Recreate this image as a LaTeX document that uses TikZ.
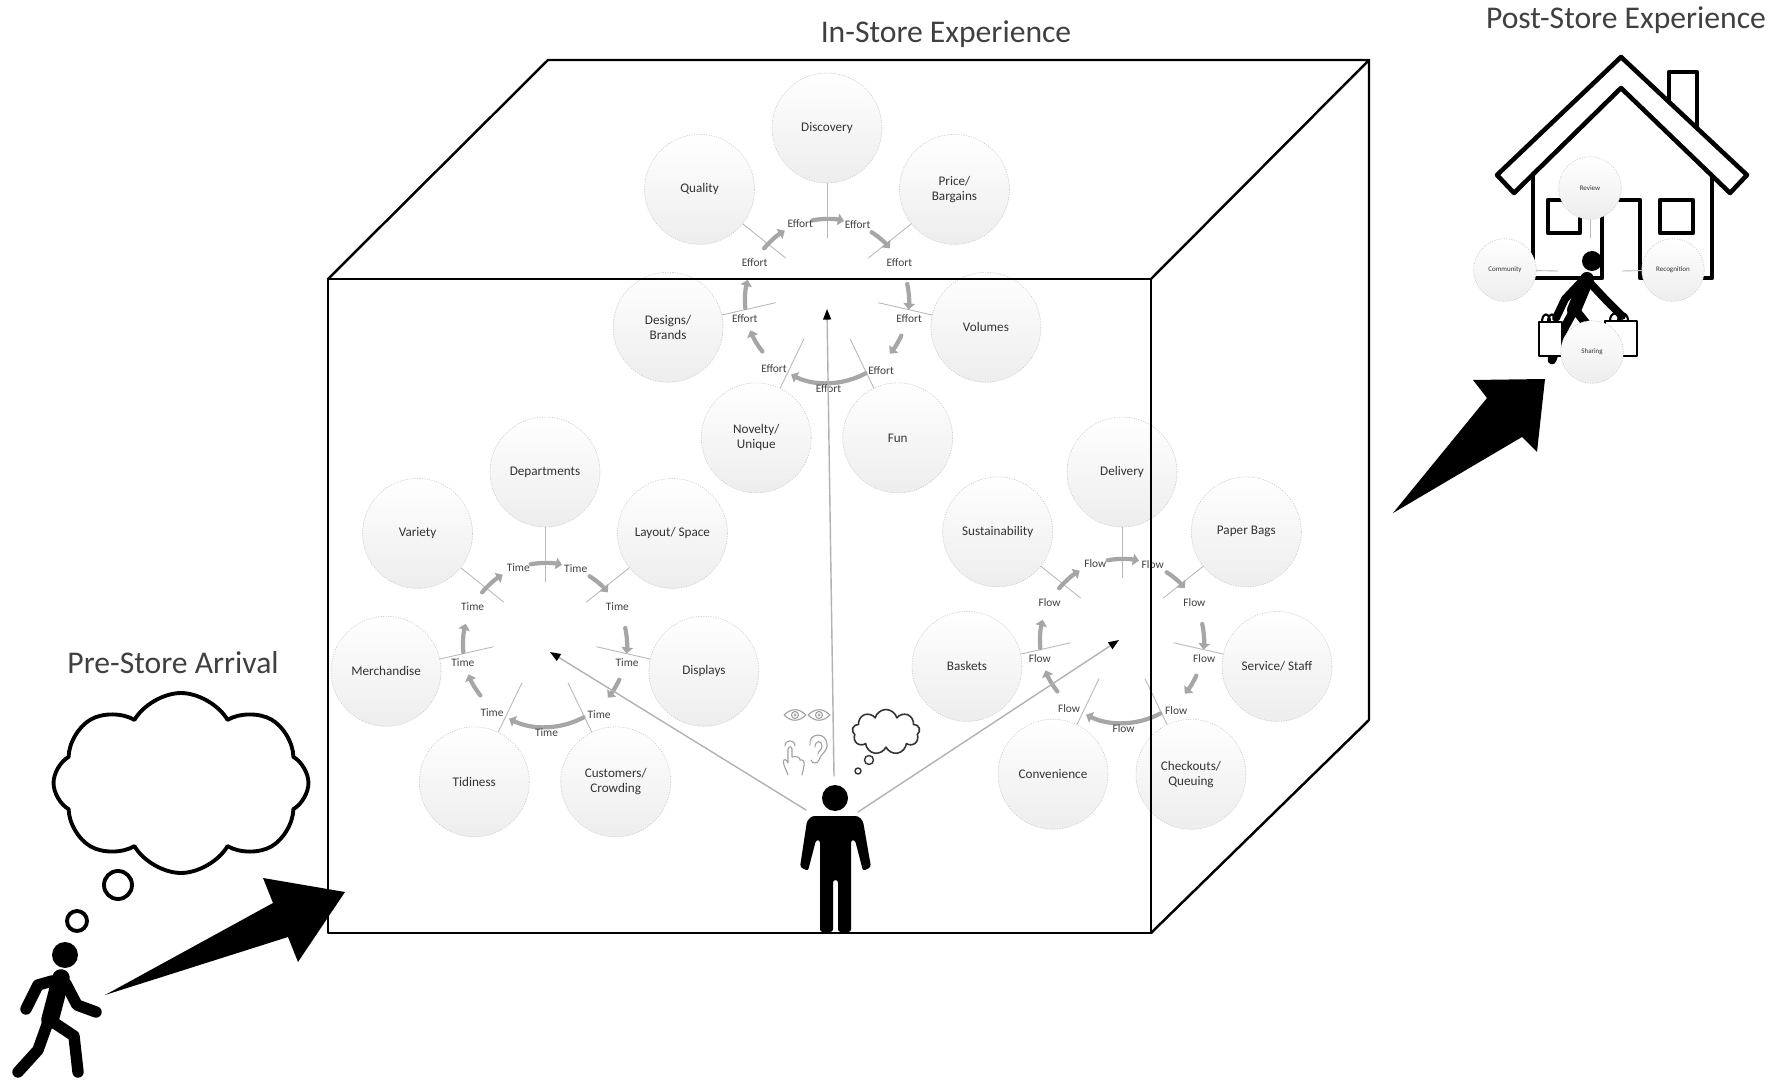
\documentclass[tikz,border=0pt]{standalone}
\usepackage{fontspec}
\setmainfont{Carlito}
\usetikzlibrary{arrows.meta,shapes.symbols}

\begin{document}
\begin{tikzpicture}[
	x=0.02cm,
	y=-0.02cm,
	line cap=round,
	line join=round,
	every node/.style={align=center},
	heading/.style={font=\fontsize{18}{20}\selectfont, text=black!75},
	bubble/.style={
		shape=circle,
		minimum size=2.2cm,
		inner sep=0pt,
		draw=gray!40,
		densely dotted,
		top color=white,
		bottom color=gray!14,
		text=black!80,
		font=\fontsize{7.5}{8.5}\selectfont
	},
	smallbubble/.style={bubble, minimum size=1.25cm, font=\fontsize{4}{5}\selectfont},
	spoke/.style={draw=gray!55, line width=0.5pt},
	cyclearrow/.style={draw=gray!70, line width=2.4pt, -{Triangle[length=3.5pt,width=6.5pt]}},
	steplabel/.style={font=\fontsize{6.5}{7}\selectfont, text=black!75, inner sep=0pt},
	sight/.style={draw=gray!60, line width=0.8pt, -{Triangle[color=black,length=6pt,width=4.5pt]}},
	edge/.style={line width=1.4pt},
	icon/.style={draw=gray!75, line width=0.6pt}
	]
	\path [use as bounding box, fill=white] (0,0) rectangle (1783,1084);

	\node [heading] (instore) at (946,34) {In-Store Experience};
	\node [heading] (poststore) at (1626,20) {Post-Store Experience};
	\node [heading] (prestore) at (173,663) {Pre-Store Arrival};

	% effort cycle
	\begin{scope}[shift={(827,291)}]
	\foreach \aspect [count=\i, evaluate={\a=(\i-1)*360/7-90;}] in
	{Discovery, Price/\\Bargains, Volumes, Fun, Novelty/\\Unique, Designs/\\Brands, Quality}{
		\node [bubble] (effort\i) at (\a:163) {\aspect};
		\draw [spoke] (effort\i) -- (\a:53);
	}
	\coordinate (effortfocus) at (0,18);
	\begin{scope}[shift={(0,10)}]
	\foreach \s/\e in {-100/-78, -57/-40, -12/6, 25/40, 62/116, 142/159, 175/195, 220/239}{
		\draw [cyclearrow] (\s:82) arc [start angle=\s, end angle=\e, radius=82];
	}
	\foreach \a/\r [count=\i] in {-109/82, -68/82, -152/82, -28/82, 168/84, 12/84, 128/86, 52/88, 89/88}{
		\node [steplabel] (effortlabel\i) at (\a:\r) {Effort};
	}
	\end{scope}
	\end{scope}

	% time cycle
	\begin{scope}[shift={(545,635)}]
	\foreach \aspect [count=\i, evaluate={\a=(\i-1)*360/7-90;}] in
	{Departments, Layout/ Space, Displays, Customers/\\Crowding, Tidiness, Merchandise, Variety}{
		\node [bubble] (time\i) at (\a:163) {\aspect};
		\draw [spoke] (time\i) -- (\a:53);
	}
	\coordinate (timefocus) at (5,17);
	\begin{scope}[shift={(0,10)}]
	\foreach \s/\e in {-100/-78, -57/-40, -12/6, 25/40, 62/116, 142/159, 175/195, 220/239}{
		\draw [cyclearrow] (\s:82) arc [start angle=\s, end angle=\e, radius=82];
	}
	\foreach \a/\r [count=\i] in {-109/82, -68/82, -152/82, -28/82, 168/84, 12/84, 128/86, 52/88, 89/88}{
		\node [steplabel] (timelabel\i) at (\a:\r) {Time};
	}
	\end{scope}
	\end{scope}

	% flow cycle
	\begin{scope}[shift={(1122,631)}]
	\foreach \aspect [count=\i, evaluate={\a=(\i-1)*360/7-90;}] in
	{Delivery, Paper Bags, Service/ Staff, Checkouts/\\Queuing, Convenience, Baskets, Sustainability}{
		\node [bubble] (flow\i) at (\a:159) {\aspect};
		\draw [spoke] (flow\i) -- (\a:53);
	}
	\coordinate (flowfocus) at (-3,9);
	\begin{scope}[shift={(0,10)}]
	\foreach \s/\e in {-100/-78, -57/-40, -12/6, 25/40, 62/116, 142/159, 175/195, 220/239}{
		\draw [cyclearrow] (\s:82) arc [start angle=\s, end angle=\e, radius=82];
	}
	\foreach \a/\r [count=\i] in {-109/82, -68/82, -152/82, -28/82, 168/84, 12/84, 128/86, 52/88, 89/88}{
		\node [steplabel] (flowlabel\i) at (\a:\r) {Flow};
	}
	\end{scope}
	\end{scope}

	% store box
	\draw [edge] (328,279) rectangle (1151,933);
	\draw [edge] (328,279) -- (548,60) -- (1369,60) -- (1151,279);
	\draw [edge] (1369,60) -- (1369,720) -- (1151,933);

	% shopper in the store
	\fill (835,798) circle [radius=13];
	\fill [rounded corners=1.5pt] (812,816) -- (858,816) -- (863,821) -- (871,867) -- (863,871)
		-- (855,840) -- (851,840) -- (851,932) -- (838,932) -- (838,880) -- (833,880)
		-- (833,932) -- (820,932) -- (820,840) -- (816,840) -- (808,871) -- (800,867)
		-- (807,821) -- cycle;
	\coordinate (shoppertop) at (834,776);
	\coordinate (shopperleft) at (806,810);
	\coordinate (shopperright) at (858,812);
	\draw [sight] (shoppertop) -- (effortfocus);
	\draw [sight] (shopperleft) -- (timefocus);
	\draw [sight] (shopperright) -- (flowfocus);

	% senses
	\foreach \x in {795,819}{
		\draw [icon] ({\x-11},715) .. controls ({\x-4},708) and ({\x+4},708) .. ({\x+11},715)
			.. controls ({\x+4},722) and ({\x-4},722) .. ({\x-11},715);
		\draw [icon] (\x,715) circle [radius=3.5];
		\fill [gray!75] (\x,715) circle [radius=1.5];
	}
	\draw [icon] (788,775) -- (784,765) .. controls (782,760) and (785,758) .. (787,761) -- (788,763)
		-- (788,749) .. controls (788,746) and (792,746) .. (792,749) -- (792,757)
		.. controls (796,756) and (800,757) .. (800,760) .. controls (803,759) and (805,762) .. (804,766)
		-- (802,775);
	\draw [icon] (785,746) .. controls (785,739) and (795,739) .. (795,746);
	\draw [icon] (810,745) .. controls (808,733) and (826,731) .. (827,744)
		.. controls (828,752) and (820,754) .. (819,760) .. controls (818,764) and (812,764) .. (811,760);
	\draw [icon] (815,747) .. controls (815,740) and (822,740) .. (822,746)
		.. controls (822,750) and (818,751) .. (818,754);
	\node [cloud, cloud puffs=9, draw=black!80, line width=0.9pt, minimum width=1.35cm, minimum height=0.9cm] (shopperthought) at (886,732) {};
	\draw [draw=black!80, line width=0.8pt] (869,760) circle [radius=4.5];
	\draw [draw=black!80, line width=0.8pt] (858,771) circle [radius=3];

	% arriving shopper
	\node [cloud, cloud puffs=8, cloud puff arc=120, draw, line width=2.2pt, minimum width=5.1cm, minimum height=3.6cm] (arrivalthought) at (181,783) {};
	\draw [line width=2.2pt] (118,885) circle [radius=14];
	\draw [line width=2.2pt] (77,921) circle [radius=10];
	\fill (65,955) circle [radius=13];
	\draw [line width=10pt] (61,978) -- (50,1020);
	\draw [line width=6.5pt] (52,981) -- (38,985) -- (26,1009);
	\draw [line width=6.5pt] (66,984) -- (77,1005) -- (96,1012);
	\draw [line width=6.5pt] (48,1022) -- (38,1050) -- (18,1072);
	\draw [line width=6.5pt] (53,1022) -- (74,1036) -- (78,1072);
	\fill (105,995) -- (273,903) -- (263,878) -- (345,892) -- (298,962) -- (288,937) -- cycle;

	% home
	\begin{scope}[line width=2.6pt]
	\draw (1497,175) -- (1621,57) -- (1747,175) -- (1730,193) -- (1621,88) -- (1514,193) -- cycle;
	\draw (1669,102) -- (1669,72) -- (1697,72) -- (1697,128);
	\draw (1533,174) -- (1533,278) -- (1602,278) -- (1602,200) -- (1640,200) -- (1640,278)
		-- (1712,278) -- (1712,176);
	\draw (1548,200) rectangle (1580,233);
	\draw (1660,200) rectangle (1693,233);
	\end{scope}
	\fill (1592,261) circle [radius=10];
	\draw [line width=8pt] (1587,279) -- (1574,310);
	\draw [line width=4.5pt] (1582,281) -- (1565,299) -- (1556,318);
	\draw [line width=4.5pt] (1590,283) -- (1606,300) -- (1622,316);
	\draw [line width=5pt] (1573,312) -- (1560,336) -- (1552,360);
	\draw [line width=5pt] (1577,312) -- (1596,336) -- (1600,358);
	\begin{scope}[line width=1.2pt]
	\draw [fill=white] (1539,322) rectangle (1562,356);
	\draw (1542,322) .. controls (1542,312) and (1550,312) .. (1550,322);
	\draw (1548,322) .. controls (1548,312) and (1556,312) .. (1556,322);
	\draw [fill=white] (1605,321) rectangle (1637,356);
	\draw (1610,321) .. controls (1610,311) and (1620,311) .. (1620,321);
	\draw (1618,321) .. controls (1618,311) and (1628,311) .. (1628,321);
	\end{scope}
	\node [smallbubble] (review) at (1590,188) {Review};
	\node [smallbubble] (community) at (1505,270) {Community};
	\node [smallbubble] (recognition) at (1673,270) {Recognition};
	\node [smallbubble] (sharing) at (1592,352) {Sharing};
	\draw [spoke] (review) -- (1590,238);
	\draw [spoke] (community) -- (1558,271);
	\draw [spoke] (recognition) -- (1622,271);
	\fill (1393,513) -- (1487,398) -- (1473,380) -- (1545,379) -- (1537,452) -- (1522,437) -- cycle;
\end{tikzpicture}
\end{document}
